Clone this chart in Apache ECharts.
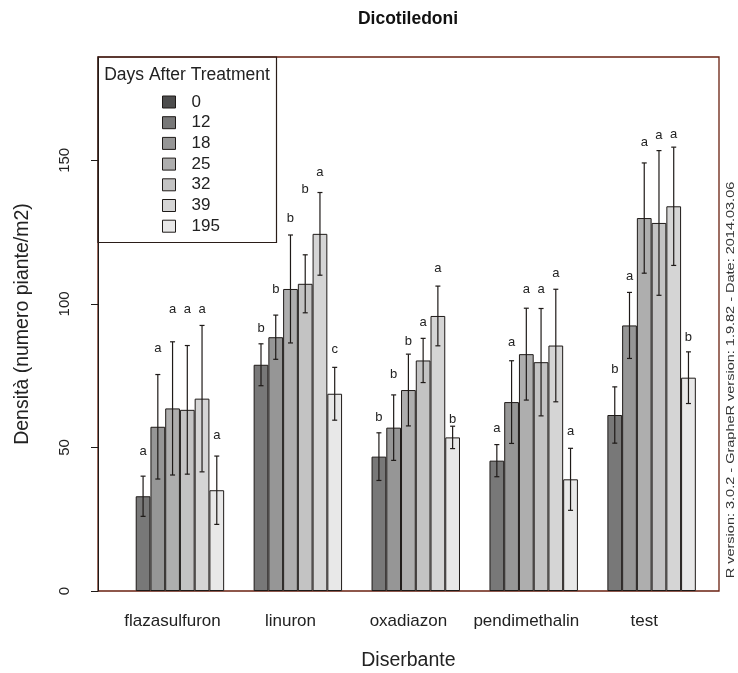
<!DOCTYPE html>
<html>
<head>
<meta charset="utf-8">
<script src="https://cdn.jsdelivr.net/npm/echarts@6/dist/echarts.min.js"></script>
<style>
  html, body { margin: 0; padding: 0; background: #ffffff; }
  #chart { width: 738px; height: 673px; }
</style>
</head>
<body>
<div id="chart"></div>
<script>
// Herbicide trial: weed density (dicots) by herbicide and days after treatment
const herbicides = ['flazasulfuron', 'linuron', 'oxadiazon', 'pendimethalin', 'test'];
const days = ['0', '12', '18', '25', '32', '39', '195'];

// mean density (plants / m2); day 0 has no observations
const dens0   = [null, null, null, null, null];
const dens12  = [33.0, 78.8, 46.8, 45.4, 61.3];
const dens18  = [57.2, 88.4, 56.9, 65.8, 92.5];
const dens25  = [63.6, 105.2, 70.0, 82.5, 129.9];
const dens32  = [63.1, 107.0, 80.3, 79.7, 128.2];
const dens39  = [67.0, 124.4, 95.8, 85.5, 134.0];
const dens195 = [35.1, 68.7, 53.5, 38.9, 74.3];

// standard errors
const se0   = [null, null, null, null, null];
const se12  = [7.0, 7.3, 8.3, 5.6, 9.8];
const se18  = [18.2, 7.7, 11.4, 14.4, 11.5];
const se25  = [23.2, 18.8, 12.5, 16.0, 19.2];
const se32  = [22.4, 10.1, 7.7, 18.7, 25.2];
const se39  = [25.5, 14.4, 10.4, 19.6, 20.6];
const se195 = [11.9, 9.2, 3.9, 10.8, 9.0];

// mean-separation letters
const grp0   = ['', '', '', '', ''];
const grp12  = ['a', 'b', 'b', 'a', 'b'];
const grp18  = ['a', 'b', 'b', 'a', 'a'];
const grp25  = ['a', 'b', 'b', 'a', 'a'];
const grp32  = ['a', 'b', 'a', 'a', 'a'];
const grp39  = ['a', 'a', 'a', 'a', 'a'];
const grp195 = ['a', 'c', 'b', 'a', 'b'];

// height (plants / m2) at which each letter is written
const lab0   = [null, null, null, null, null];
const lab12  = [48.5, 91.6, 60.4, 56.7, 77.2];
const lab18  = [84.6, 104.9, 75.5, 86.5, 109.6];
const lab25  = [98.2, 129.7, 86.9, 105.2, 156.1];
const lab32  = [98.2, 139.8, 93.6, 105.2, 158.7];
const lab39  = [98.2, 145.8, 112.5, 110.5, 159.0];
const lab195 = [54.3, 84.2, 59.6, 55.5, 88.3];

const yTicks = [0, 50, 100, 150];
const yMax = 186;

const means   = [dens0, dens12, dens18, dens25, dens32, dens39, dens195];
const errors  = [se0, se12, se18, se25, se32, se39, se195];
const letters = [grp0, grp12, grp18, grp25, grp32, grp39, grp195];
const letterY = [lab0, lab12, lab18, lab25, lab32, lab39, lab195];

const greys = ['#4d4d4d', '#787878', '#969696', '#aeaeae', '#c3c3c3', '#d5d5d5', '#e8e8e8'];
const FONT = 'Liberation Sans, Arial, sans-serif';
const ink = '#1e1a18';
const frame = '#6a2010';

const chart = echarts.init(document.getElementById('chart'), null, { renderer: 'canvas' });

const barSeries = days.map((d, i) => ({
  type: 'bar',
  name: d,
  xAxisIndex: 1,
  yAxisIndex: 1,
  data: means[i],
  barWidth: '12.5%',
  barGap: '0%',
  itemStyle: { color: greys[i], borderColor: ink, borderWidth: 1 },
  emphasis: { disabled: true },
  animation: false,
  z: 2
}));

const errSeries = days.map((d, i) => ({
  type: 'custom',
  name: 'err' + d,
  xAxisIndex: 1,
  yAxisIndex: 1,
  animation: false,
  silent: true,
  z: 5,
  data: herbicides.map((h, k) => [k, means[i][k], errors[i][k], letterY[i][k]]),
  renderItem: function (params, api) {
    const k = api.value(0);
    const m = api.value(1);
    const s = api.value(2);
    const ly = api.value(3);
    if (m == null || isNaN(m)) return null;
    const band = api.size([1, 0])[0];
    const slot = band / 8;
    const x = api.coord([k, m])[0] + (i - 3) * slot;
    const yTop = api.coord([k, m + s])[1];
    const yBot = api.coord([k, m - s])[1];
    const yLab = api.coord([k, ly])[1];
    const cap = 2.5;
    const lineStyle = { stroke: ink, lineWidth: 1.2 };
    return {
      type: 'group',
      children: [
        { type: 'line', shape: { x1: x, y1: yTop, x2: x, y2: yBot }, style: lineStyle },
        { type: 'line', shape: { x1: x - cap, y1: yTop, x2: x + cap, y2: yTop }, style: lineStyle },
        { type: 'line', shape: { x1: x - cap, y1: yBot, x2: x + cap, y2: yBot }, style: lineStyle },
        {
          type: 'text',
          x: x, y: yLab,
          style: {
            text: letters[i][params.dataIndex],
            fill: '#222',
            font: '13px ' + FONT,
            textAlign: 'center',
            textVerticalAlign: 'middle'
          }
        }
      ]
    };
  }
}));

chart.setOption({
  backgroundColor: '#ffffff',
  animation: false,
  title: {
    text: 'Dicotiledoni',
    left: 408,
    top: 10,
    padding: 0,
    textAlign: 'center',
    textStyle: { fontFamily: FONT, fontSize: 17.5, fontWeight: 'bold', color: '#111' }
  },
  legend: {
    data: days,
    orient: 'vertical',
    left: 162,
    top: 93.5,
    padding: 0,
    itemWidth: 13,
    itemHeight: 12,
    itemGap: 3.7,
    icon: 'rect',
    selectedMode: false,
    itemStyle: { borderColor: ink, borderWidth: 1 },
    textStyle: { fontFamily: FONT, fontSize: 17, color: '#222', padding: [0, 0, 0, 11] }
  },
  grid: [
    { left: 98, right: 19, top: 57, bottom: 82, outerBoundsMode: 'none', show: true, borderColor: frame, borderWidth: 1.3, backgroundColor: 'transparent' },
    { left: 113.6, right: 34.8, top: 57, bottom: 82, outerBoundsMode: 'none' }
  ],
  xAxis: [
    { gridIndex: 0, type: 'value', min: 0, max: 1, show: false },
    {
      gridIndex: 1,
      type: 'category',
      data: herbicides,
      axisLine: { show: false },
      axisTick: { show: false },
      axisLabel: { interval: 0, margin: 22, fontFamily: FONT, fontSize: 17, color: '#222' },
      name: 'Diserbante',
      nameLocation: 'middle',
      nameGap: 60,
      nameTextStyle: { fontFamily: FONT, fontSize: 19.5, color: '#222' }
    }
  ],
  yAxis: [
    {
      gridIndex: 0,
      type: 'value',
      min: 0,
      max: yMax,
      interval: 50,
      splitLine: { show: false },
      axisLine: { show: true, lineStyle: { color: ink, width: 1 } },
      axisTick: { show: true, length: 7, customValues: yTicks, lineStyle: { color: ink } },
      axisLabel: {
        rotate: 90,
        margin: 26,
        customValues: yTicks,
        fontFamily: FONT,
        fontSize: 15,
        color: '#222'
      },
      name: 'Densità (numero piante/m2)',
      nameLocation: 'middle',
      nameGap: 65,
      nameTextStyle: { fontFamily: FONT, fontSize: 19.5, color: '#222' }
    },
    { gridIndex: 1, type: 'value', min: 0, max: yMax, show: false }
  ],
  graphic: [
    {
      type: 'rect',
      shape: { x: 98, y: 57, width: 178.5, height: 185.5 },
      style: { fill: 'transparent', stroke: '#2a1d18', lineWidth: 1.2 },
      z: 10
    },
    {
      type: 'text',
      x: 187, y: 75.5,
      style: {
        text: 'Days After Treatment',
        font: '17.5px ' + FONT,
        fill: '#222',
        textAlign: 'center',
        textVerticalAlign: 'middle'
      },
      z: 10
    },
    {
      type: 'text',
      x: 731, y: 380,
      rotation: Math.PI / 2,
      scaleY: 0.8,
      style: {
        text: 'R version: 3.0.2 - GrapheR version: 1.9.82 - Date: 2014.03.06',
        font: '14.5px ' + FONT,
        fill: '#333',
        textAlign: 'center',
        textVerticalAlign: 'middle'
      },
      z: 10
    }
  ],
  series: barSeries.concat(errSeries)
});
</script>
</body>
</html>
